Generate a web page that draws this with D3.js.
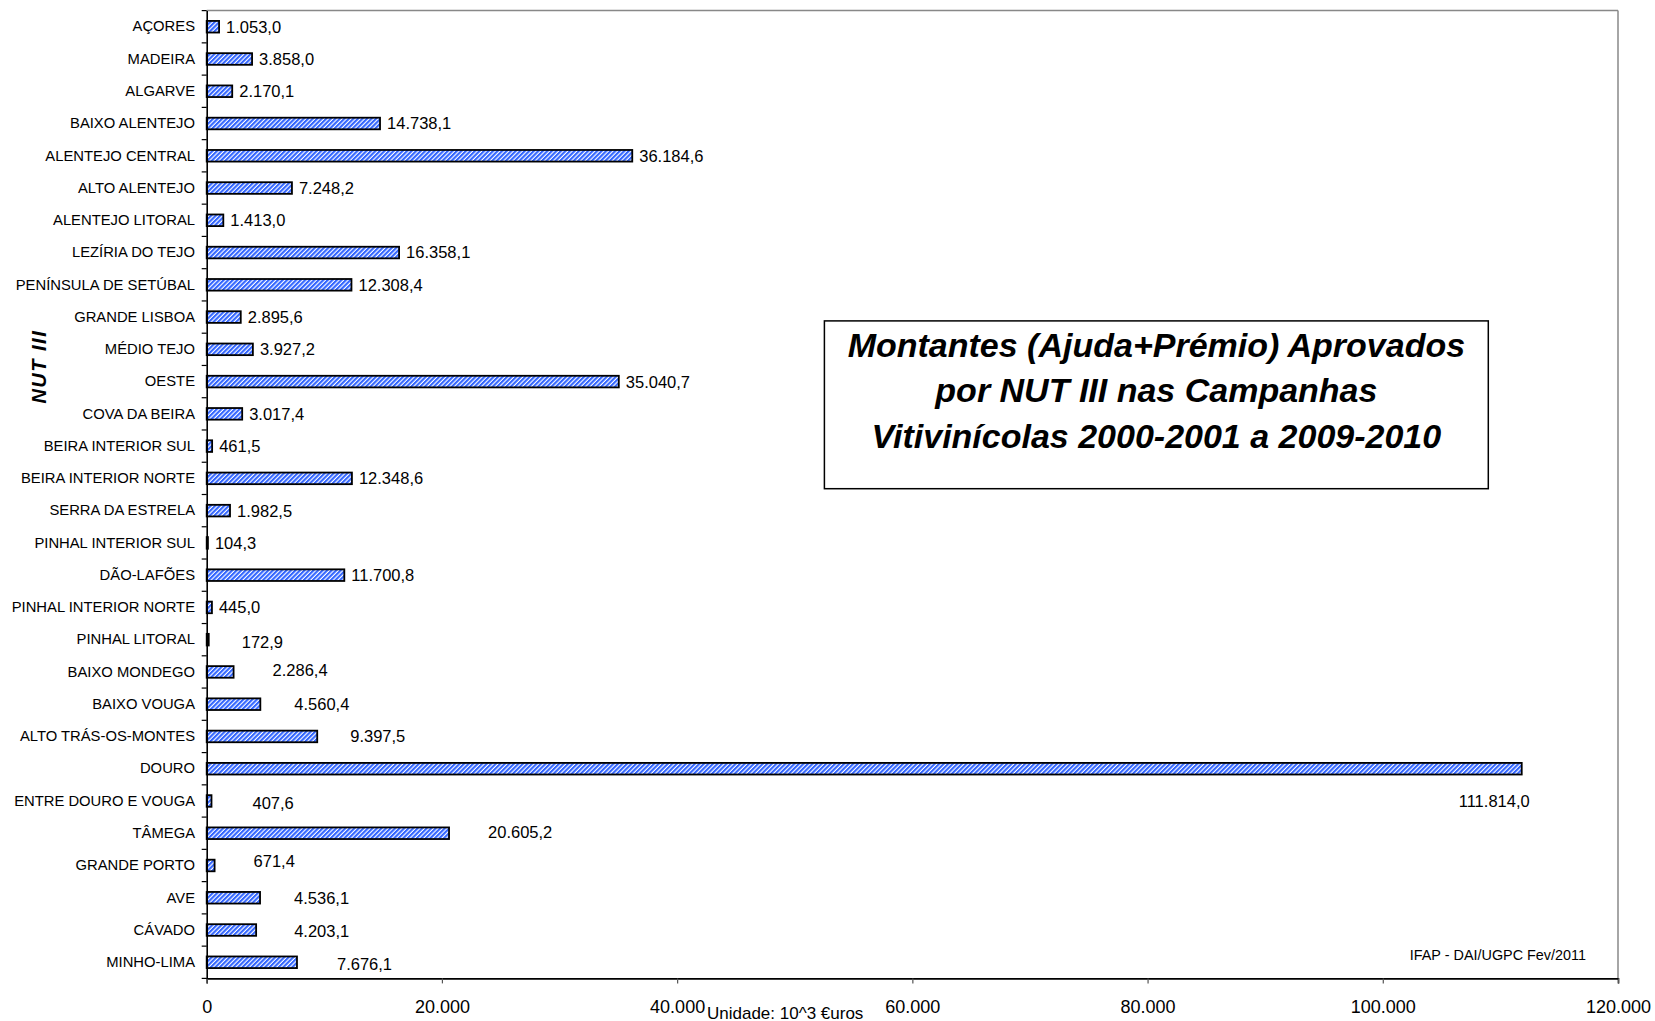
<!DOCTYPE html>
<html><head><meta charset="utf-8">
<script src="https://cdn.jsdelivr.net/npm/d3@7"></script>
<style>
html,body{margin:0;padding:0;background:#fff;overflow:hidden}
svg{display:block;font-family:"Liberation Sans",Arial,sans-serif}
</style></head>
<body>
<svg id="chart" width="1655" height="1021"></svg>
<script>
const categories = ["AÇORES","MADEIRA","ALGARVE","BAIXO ALENTEJO","ALENTEJO CENTRAL","ALTO ALENTEJO","ALENTEJO LITORAL","LEZÍRIA DO TEJO","PENÍNSULA DE SETÚBAL","GRANDE LISBOA","MÉDIO TEJO","OESTE","COVA DA BEIRA","BEIRA INTERIOR SUL","BEIRA INTERIOR NORTE","SERRA DA ESTRELA","PINHAL INTERIOR SUL","DÃO-LAFÕES","PINHAL INTERIOR NORTE","PINHAL LITORAL","BAIXO MONDEGO","BAIXO VOUGA","ALTO TRÁS-OS-MONTES","DOURO","ENTRE DOURO E VOUGA","TÂMEGA","GRANDE PORTO","AVE","CÁVADO","MINHO-LIMA"];
const values = [1053.0,3858.0,2170.1,14738.1,36184.6,7248.2,1413.0,16358.1,12308.4,2895.6,3927.2,35040.7,3017.4,461.5,12348.6,1982.5,104.3,11700.8,445.0,172.9,2286.4,4560.4,9397.5,111814.0,407.6,20605.2,671.4,4536.1,4203.1,7676.1];
const xTicks = [0,20000,40000,60000,80000,100000,120000];
const titleLines = ["Montantes (Ajuda+Prémio) Aprovados","por NUT III nas Campanhas","Vitivinícolas 2000-2001 a 2009-2010"];
const axisTitle = "NUT III";
const unitNote = "Unidade: 10^3 €uros";
const sourceNote = "IFAP - DAI/UGPC Fev/2011";
// manual label nudges (px) as placed in the original chart
const labelNudgeX = [0,0,0,0,0,0,0,0,0,0,0,0,0,0,0,0,0,0,0,26,32,27,26,-70,34,32,32,27,31,33];
const labelNudgeY = [0,0,0,0,0,0,0,0,0,0,0,0,0,0,0,0,0,0,0,2,-2,0,0,32,2.5,-1.5,-4,0,1,2];

const loc = d3.formatLocale({decimal:",",thousands:".",grouping:[3],currency:["","€"]});
const fmtVal = loc.format(",.1f");
const fmtTick = loc.format(",d");

const svg = d3.select("#chart");
const L = 206.7, R = 1618, T = 10.6, B = 978.4;

const defs = svg.append("defs");
const pat = defs.append("pattern").attr("id","hatch").attr("patternUnits","userSpaceOnUse")
  .attr("width",3.2).attr("height",3.2).attr("patternTransform","rotate(45)");
pat.append("rect").attr("width",3.2).attr("height",3.2).attr("fill","#ffffff");
pat.append("rect").attr("width",2.1).attr("height",3.2).attr("fill","#3366ff");

const x = d3.scaleLinear().domain([0,120000]).range([L,R]);
const y = d3.scaleBand().domain(categories).range([T,B]).paddingInner(0.64).paddingOuter(0.32);
const gapHalf = (y.step()-y.bandwidth())/2;

// frame top/right
svg.append("line").attr("x1",L).attr("x2",R).attr("y1",T).attr("y2",T).attr("stroke","#888").attr("stroke-width",1.5);
svg.append("line").attr("x1",R).attr("x2",R).attr("y1",T).attr("y2",B).attr("stroke","#888").attr("stroke-width",1.5);

// bars
svg.append("g").selectAll("rect").data(values).join("rect")
  .attr("x",x(0)).attr("y",(d,i)=>y(categories[i]))
  .attr("width",d=>x(d)-x(0)).attr("height",y.bandwidth())
  .attr("fill","url(#hatch)").attr("stroke","#000").attr("stroke-width",1.8);

// value labels
svg.append("g").selectAll("text").data(values).join("text")
  .attr("x",(d,i)=>x(d)+7+labelNudgeX[i])
  .attr("y",(d,i)=>y(categories[i])+y.bandwidth()/2+labelNudgeY[i])
  .attr("dy","0.36em").attr("font-size","16.5px").attr("fill","#000")
  .text(d=>fmtVal(d));

// x axis
const xa = svg.append("g").attr("transform",`translate(0,${B})`)
  .call(d3.axisBottom(x).tickValues(xTicks).tickFormat(fmtTick).tickSize(5).tickPadding(16.6));
xa.select(".domain").attr("stroke","#000").attr("stroke-width",1.6);
xa.selectAll(".tick line").attr("stroke","#555").attr("stroke-width",1.2);
xa.selectAll(".tick text").attr("font-size","18px").attr("font-family","'Liberation Sans',Arial,sans-serif").attr("fill","#000");

// y axis
const ya = svg.append("g").attr("transform",`translate(${L},0)`)
  .call(d3.axisLeft(y).tickSize(0).tickPadding(11.7));
ya.select(".domain").attr("stroke","#000").attr("stroke-width",1.6);
ya.selectAll(".tick text").attr("font-size","14.8px").attr("font-family","'Liberation Sans',Arial,sans-serif").attr("fill","#000");
const bounds = categories.map(c=>y(c)-gapHalf).concat([B]);
svg.append("g").selectAll("line").data(bounds).join("line")
  .attr("x1",L-5).attr("x2",L).attr("y1",d=>d).attr("y2",d=>d)
  .attr("stroke","#000").attr("stroke-width",1.2);

// y axis title
svg.append("text").attr("transform","translate(46,366.7) rotate(-90)")
  .attr("text-anchor","middle").attr("font-size","20px").attr("font-weight","bold")
  .attr("font-style","italic").attr("letter-spacing","1.5px").text(axisTitle);

// title box
svg.append("rect").attr("x",824.4).attr("y",320.9).attr("width",663.9).attr("height",167.8)
  .attr("fill","#fff").attr("stroke","#000").attr("stroke-width",1.5);
const tb = [356.8,402.3,447.8];
svg.append("g").selectAll("text").data(titleLines).join("text")
  .attr("x",1156.4).attr("y",(d,i)=>tb[i]).attr("text-anchor","middle")
  .attr("font-size","34px").attr("font-weight","bold").attr("font-style","italic")
  .text(d=>d);

// notes
svg.append("text").attr("x",1586).attr("y",960).attr("text-anchor","end")
  .attr("font-size","14.4px").text(sourceNote);
svg.append("text").attr("x",707).attr("y",1018.5).attr("text-anchor","start")
  .attr("font-size","17px").text(unitNote);
</script>
</body></html>
